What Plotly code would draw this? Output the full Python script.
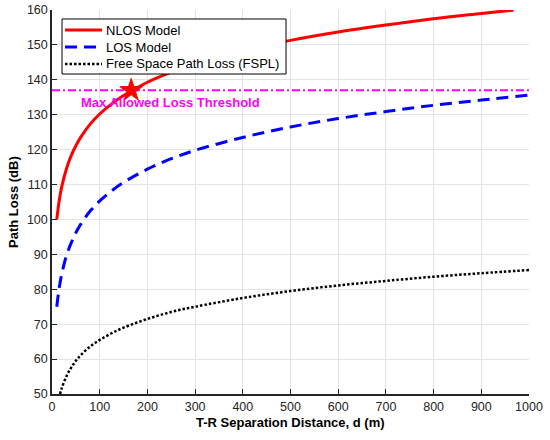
import plotly.graph_objects as go

# Distances (m) and path-loss values (dB)
d_nlos = [10, 15, 20, 30, 40, 50, 60, 80, 100, 125, 150, 200, 250, 300, 400, 500, 600, 700, 800, 900, 968]
pl_nlos = [100.0, 105.3, 109.1, 114.4, 118.2, 121.1, 123.5, 127.3, 130.2, 133.1, 135.5, 139.3, 142.2, 144.6, 148.4, 151.3, 153.7, 155.7, 157.5, 159.0, 160.0]

d_los = [10, 15, 20, 30, 40, 50, 60, 80, 100, 125, 150, 200, 250, 300, 400, 500, 600, 700, 800, 900, 1000]
pl_los = [75.0, 80.3, 84.1, 89.5, 93.2, 96.2, 98.6, 102.4, 105.3, 108.2, 110.6, 114.4, 117.4, 119.8, 123.5, 126.5, 128.9, 130.9, 132.7, 134.2, 135.6]

d_fspl = [16.8, 20, 30, 40, 50, 60, 80, 100, 125, 150, 200, 250, 300, 400, 500, 600, 700, 800, 900, 1000]
pl_fspl = [50.0, 51.5, 55.0, 57.5, 59.5, 61.1, 63.6, 65.5, 67.4, 69.0, 71.5, 73.5, 75.0, 77.5, 79.5, 81.1, 82.4, 83.6, 84.6, 85.5]

threshold = 137
star_d = [166]
star_pl = [137]
threshold_label = "Max Allowed Loss Threshold"
label_pos = (249, 133.6)

series_names = ["NLOS Model", "LOS Model", "Free Space Path Loss (FSPL)"]

x_ticks = [0, 100, 200, 300, 400, 500, 600, 700, 800, 900, 1000]
y_ticks = [50, 60, 70, 80, 90, 100, 110, 120, 130, 140, 150, 160]

FONT = "Liberation Sans, Arial, Helvetica"

styles = [
    dict(color="#FF0000", width=3),
    dict(color="#0000FF", width=3, dash="12px,7px"),
    dict(color="#000000", width=2.5, dash="2.5px,2px"),
]

fig = go.Figure()

fig.add_trace(go.Scatter(x=[0, 1000], y=[threshold, threshold], mode="lines",
                         line=dict(color="#FF00FF", width=2, dash="8px,3px,2px,3px"),
                         showlegend=False, hoverinfo="skip"))
for xs, ys, nm, st in zip([d_nlos, d_los, d_fspl], [pl_nlos, pl_los, pl_fspl], series_names, styles):
    fig.add_trace(go.Scatter(x=xs, y=ys, mode="lines", name=nm, showlegend=False,
                             line=dict(shape="spline", **st)))
fig.add_trace(go.Scatter(x=star_d, y=star_pl, mode="markers", showlegend=False,
                         marker=dict(symbol="star", size=17, color="#FF0000",
                                     line=dict(color="#FF0000", width=1))))

fig.add_annotation(x=label_pos[0], y=label_pos[1], text="<b>%s</b>" % threshold_label,
                   showarrow=False, font=dict(color="#FF00FF", size=13, family=FONT))

# legend box (drawn manually, paper coordinates)
fig.add_shape(type="rect", xref="paper", yref="paper", x0=0.021, x1=0.4906, y0=0.8333, y1=0.9766,
              fillcolor="white", line=dict(color="#000000", width=1), layer="above")
row_y = [0.9479, 0.9036, 0.8594]
for ry, nm, st in zip(row_y, series_names, styles):
    fig.add_shape(type="line", xref="paper", yref="paper", x0=0.0273, x1=0.1048, y0=ry, y1=ry,
                  line=st, layer="above")
    fig.add_annotation(x=0.109, y=ry, xref="paper", yref="paper", xanchor="left", yanchor="middle",
                       text=nm, showarrow=False, font=dict(size=13, color="#000000", family=FONT))

# axis titles as annotations (paper coordinates)
fig.add_annotation(x=0.5, y=0, xref="paper", yref="paper", yshift=-28, yanchor="middle",
                   text="<b>T-R Separation Distance, d (m)</b>", showarrow=False,
                   font=dict(size=13, color="#000000", family=FONT))
fig.add_annotation(x=0, y=0.5, xref="paper", yref="paper", xshift=-39, xanchor="center",
                   text="<b>Path Loss (dB)</b>", showarrow=False, textangle=-90,
                   font=dict(size=13, color="#000000", family=FONT))

axis_common = dict(showgrid=True, gridcolor="#e3e3e3", gridwidth=1,
                   showline=True, linecolor="#262626", linewidth=1.5,
                   ticks="inside", ticklen=5, tickcolor="#262626", tickwidth=1,
                   tickfont=dict(size=12.5, color="#262626", family=FONT),
                   ticklabeloverflow="allow",
                   zeroline=False, mirror=False, automargin=False)

fig.update_xaxes(range=[0, 1000], tickvals=x_ticks, **axis_common)
fig.update_yaxes(range=[50, 160], tickvals=y_ticks, **axis_common)

fig.update_layout(
    width=550, height=440,
    margin=dict(l=52, r=21, t=10, b=46, autoexpand=False),
    plot_bgcolor="white", paper_bgcolor="white",
    font=dict(family=FONT, color="#262626"),
    showlegend=False,
)

# remove the default 8px page margin so the figure fills the window exactly
fig.write_html("out.html", config={"displayModeBar": False},
               post_script="document.body.style.margin='0px';document.body.style.overflow='hidden';")
